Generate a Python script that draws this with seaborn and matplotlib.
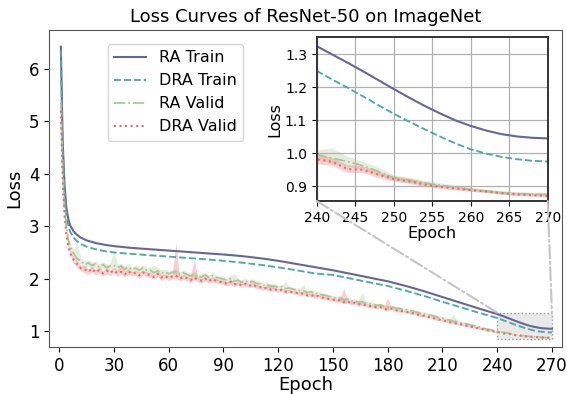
import numpy as np
import pandas as pd
import matplotlib
matplotlib.use("Agg")
import matplotlib.pyplot as plt
import seaborn as sns
from matplotlib.patches import Rectangle, ConnectionPatch

# Training loss (smooth curves)
train_epochs = [1, 2, 3, 4, 5, 6, 8, 10, 12, 15, 20, 25, 30, 40, 50, 60, 70, 80, 90, 100,
                110, 120, 130, 140, 150, 160, 170, 180, 190, 200, 205, 210, 215, 220, 225,
                230, 235, 240, 242, 244, 246, 248, 250, 252, 254, 256, 258, 260, 262, 264,
                266, 268, 270]
ra_train = [6.42, 4.60, 3.80, 3.35, 3.15, 3.02, 2.90, 2.83, 2.78, 2.73, 2.68, 2.645, 2.62,
            2.585, 2.56, 2.535, 2.51, 2.485, 2.46, 2.43, 2.39, 2.34, 2.28, 2.22, 2.16,
            2.09, 2.02, 1.95, 1.86, 1.76, 1.705, 1.65, 1.595, 1.54, 1.485, 1.43, 1.377,
            1.325, 1.300, 1.275, 1.249, 1.222, 1.195, 1.169, 1.144, 1.121, 1.100, 1.083,
            1.069, 1.058, 1.051, 1.047, 1.045]
dra_train = [6.35, 4.45, 3.65, 3.22, 3.02, 2.90, 2.78, 2.71, 2.66, 2.61, 2.56, 2.525, 2.50,
             2.47, 2.445, 2.42, 2.395, 2.37, 2.34, 2.305, 2.265, 2.215, 2.16, 2.10, 2.07,
             2.00, 1.93, 1.86, 1.77, 1.67, 1.615, 1.56, 1.507, 1.455, 1.402, 1.35, 1.30,
             1.25, 1.224, 1.199, 1.173, 1.146, 1.12, 1.096, 1.073, 1.051, 1.030, 1.012,
             0.999, 0.989, 0.982, 0.977, 0.975]

# Validation loss (noisy, with spread over runs)
valid_epochs = [1, 2, 3, 4, 5, 6, 7, 8] + list(range(10, 271, 2))
ra_valid = [
    5.35, 4.05, 3.35, 2.98, 2.75, 2.62, 2.54, 2.48,
    2.38, 2.33, 2.27, 2.30, 2.25, 2.28, 2.22, 2.27, 2.21, 2.24,
    2.25, 2.21, 2.24, 2.18, 2.22, 2.17, 2.20, 2.16, 2.21, 2.16,
    2.16, 2.11, 2.15, 2.10, 2.13, 2.09, 2.12, 2.13, 2.08, 2.11,
    2.08, 2.05, 2.09, 2.04, 2.03, 2.07, 2.02, 2.06, 2.02, 2.01,
    1.99, 1.97, 2.00, 1.95, 1.97, 1.93, 1.96, 1.92, 1.95, 1.91,
    1.90, 1.87, 1.89, 1.85, 1.86, 1.83, 1.85, 1.81, 1.82, 1.80,
    1.78, 1.77, 1.77, 1.73, 1.75, 1.71, 1.72, 1.69, 1.68, 1.66,
    1.64, 1.62, 1.63, 1.59, 1.61, 1.57, 1.58, 1.55, 1.56, 1.53,
    1.52, 1.51, 1.49, 1.50, 1.47, 1.45, 1.47, 1.44, 1.43, 1.42,
    1.41, 1.39, 1.38, 1.36, 1.34, 1.33, 1.31, 1.30, 1.28, 1.26,
    1.25, 1.22, 1.21, 1.19, 1.18, 1.16, 1.15, 1.13, 1.11, 1.10,
    1.08, 1.06, 1.04, 1.03, 1.01, 0.996, 0.985, 0.975, 0.962, 0.945,
    0.925, 0.918, 0.910, 0.903, 0.897, 0.890, 0.885, 0.880, 0.877, 0.876,
    0.875]
dra_valid = [
    5.20, 3.90, 3.20, 2.85, 2.62, 2.50, 2.42, 2.36,
    2.27, 2.20, 2.18, 2.13, 2.19, 2.12, 2.16, 2.10, 2.15, 2.11,
    2.16, 2.10, 2.13, 2.08, 2.14, 2.09, 2.11, 2.06, 2.12, 2.08,
    2.07, 2.03, 2.09, 2.02, 2.05, 2.01, 2.04, 2.06, 2.00, 2.03,
    2.01, 1.97, 2.02, 1.98, 1.96, 2.00, 1.95, 1.99, 1.96, 1.94,
    1.93, 1.90, 1.94, 1.89, 1.91, 1.87, 1.90, 1.86, 1.89, 1.85,
    1.84, 1.81, 1.83, 1.79, 1.80, 1.77, 1.79, 1.75, 1.76, 1.74,
    1.73, 1.71, 1.72, 1.68, 1.69, 1.66, 1.67, 1.64, 1.63, 1.61,
    1.60, 1.58, 1.59, 1.55, 1.57, 1.53, 1.54, 1.51, 1.52, 1.49,
    1.48, 1.47, 1.45, 1.46, 1.43, 1.41, 1.43, 1.40, 1.39, 1.38,
    1.37, 1.35, 1.34, 1.32, 1.30, 1.29, 1.27, 1.26, 1.24, 1.22,
    1.21, 1.19, 1.17, 1.16, 1.14, 1.13, 1.11, 1.10, 1.08, 1.07,
    1.05, 1.04, 1.02, 1.01, 0.995, 0.982, 0.974, 0.952, 0.950, 0.935,
    0.922, 0.915, 0.905, 0.898, 0.893, 0.888, 0.884, 0.879, 0.875, 0.873,
    0.870]
# half width of the spread band
ra_band = [
    .05, .05, .06, .06, .06, .07, .08, .08,
    .07, .06, .08, .06, .07, .06, .07, .06, .07, .06,
    .06, .07, .05, .06, .07, .05, .06, .07, .05, .06,
    .06, .05, .06, .07, .05, .06, .05, .06, .05, .06,
    .05, .06, .05, .05, .06, .05, .05, .06, .05, .05,
    .05, .05, .06, .05, .04, .05, .05, .04, .05, .05,
    .05, .04, .05, .04, .05, .04, .04, .05, .04, .04,
    .04, .05, .04, .04, .04, .05, .04, .04, .04, .04,
    .04, .04, .05, .04, .04, .04, .04, .05, .04, .04,
    .04, .04, .04, .03, .04, .04, .03, .04, .04, .03,
    .03, .04, .03, .03, .04, .03, .03, .03, .04, .03,
    .03, .03, .03, .03, .03, .03, .03, .03, .03, .02,
    .02, .02, .02, .02, .02, .012, .018, .015, .012, .012,
    .008, .008, .007, .006, .006, .005, .005, .005, .005, .005,
    .005]
dra_band = [
    .05, .05, .05, .05, .05, .05, .06, .06,
    .06, .05, .07, .05, .06, .05, .06, .05, .06, .05,
    .05, .06, .04, .05, .06, .04, .05, .06, .04, .05,
    .05, .04, .05, .06, .04, .05, .04, .05, .04, .05,
    .04, .05, .04, .04, .05, .04, .04, .05, .04, .04,
    .04, .04, .05, .04, .03, .04, .04, .03, .04, .04,
    .04, .03, .04, .03, .04, .03, .03, .04, .03, .03,
    .03, .04, .03, .03, .03, .04, .03, .03, .03, .03,
    .03, .03, .04, .03, .03, .03, .03, .04, .03, .03,
    .03, .03, .03, .02, .03, .03, .02, .03, .03, .02,
    .02, .03, .02, .02, .03, .02, .02, .02, .03, .02,
    .02, .02, .02, .02, .02, .02, .02, .02, .02, .02,
    .02, .02, .015, .015, .015, .015, .012, .012, .01, .01,
    .008, .008, .007, .006, .006, .005, .005, .005, .005, .005,
    .005]
# upward spikes of the band
ra_spikes = {10: 0.25, 30: 0.24, 52: 0.10, 96: 0.10, 124: 0.08, 134: 0.08,
             166: 0.14, 216: 0.11, 242: 0.012}
dra_spikes = {34: 0.10, 64: 0.58, 74: 0.32, 116: 0.08, 156: 0.24, 180: 0.20, 196: 0.06}

c_ra_train = '#67669a'
c_dra_train = '#4aa9a9'
c_ra_valid = '#a8c897'
c_dra_valid = '#f06a6a'


def band_frame(epochs, mid, band, spikes):
    rows = []
    for e, m, b in zip(epochs, mid, band):
        rows.append((e, m))
        rows.append((e, m - b))
        rows.append((e, m + b + spikes.get(e, 0)))
    return pd.DataFrame(rows, columns=['epoch', 'loss'])


train_ra_df = pd.DataFrame({'epoch': train_epochs, 'loss': ra_train})
train_dra_df = pd.DataFrame({'epoch': train_epochs, 'loss': dra_train})
valid_ra_df = band_frame(valid_epochs, ra_valid, ra_band, ra_spikes)
valid_dra_df = band_frame(valid_epochs, dra_valid, dra_band, dra_spikes)


def draw(ax, lw=1.5):
    sns.lineplot(data=train_ra_df, x='epoch', y='loss', ax=ax, color=c_ra_train,
                 linestyle='-', linewidth=lw, label='RA Train')
    sns.lineplot(data=train_dra_df, x='epoch', y='loss', ax=ax, color=c_dra_train,
                 linestyle='--', linewidth=lw * 0.9, label='DRA Train')
    sns.lineplot(data=valid_ra_df, x='epoch', y='loss', ax=ax, color=c_ra_valid,
                 linestyle='-.', linewidth=lw * 0.85, label='RA Valid',
                 estimator='median', errorbar=lambda v: (v.min(), v.max()),
                 err_kws={'alpha': 0.3, 'linewidth': 0})
    sns.lineplot(data=valid_dra_df, x='epoch', y='loss', ax=ax, color=c_dra_valid,
                 linestyle=':', linewidth=lw, label='DRA Valid',
                 estimator='median', errorbar=lambda v: (v.min(), v.max()),
                 err_kws={'alpha': 0.32, 'linewidth': 0})


fig = plt.figure(figsize=(5.67, 3.94), dpi=100)
ax = fig.add_axes([0.0864, 0.119, 0.9047, 0.805])
draw(ax)
ax.set_xlim(-5.5, 275.5)
ax.set_ylim(0.695, 6.74)
ax.set_xticks(range(0, 271, 30))
ax.set_yticks([1, 2, 3, 4, 5, 6])
ax.tick_params(labelsize=12)
ax.set_xlabel('Epoch', fontsize=13, labelpad=1)
ax.set_ylabel('Loss', fontsize=13)
ax.set_title('Loss Curves of ResNet-50 on ImageNet', fontsize=13)
for s in ax.spines.values():
    s.set_color('#555555')
ax.legend(loc='upper left', bbox_to_anchor=(0.115, 0.956), borderaxespad=0,
          fontsize=11.5, handlelength=2.0)

# zoomed region
y0, y1 = 0.855, 1.352
ax.add_patch(Rectangle((240, y0), 30, y1 - y0, facecolor='#e9e9e9',
                       edgecolor='#999999', linestyle=':', linewidth=1, zorder=1))

axins = fig.add_axes([0.5586, 0.4898, 0.4074, 0.4155])
draw(axins, lw=1.5)
axins.set_xlim(240, 270)
axins.set_ylim(y0, y1)
axins.set_xticks(range(240, 271, 5))
axins.set_yticks([0.9, 1.0, 1.1, 1.2, 1.3])
axins.grid(True, color='#b0b0b0', linewidth=0.9)
axins.tick_params(labelsize=10)
axins.set_xlabel('Epoch', fontsize=11.5, labelpad=1)
axins.set_ylabel('Loss', fontsize=11.5, labelpad=2)
axins.legend().remove()
for s in axins.spines.values():
    s.set_color('#333333')
    s.set_linewidth(1.4)

for xa, xb in [(0, 240), (1, 270)]:
    con = ConnectionPatch(xyA=(xa, 0), coordsA=axins.transAxes,
                          xyB=(xb, y1), coordsB=ax.transData,
                          color='#c4c4c4', linestyle='-.', linewidth=1.5)
    fig.add_artist(con)

fig.savefig('out.png', dpi=100)
